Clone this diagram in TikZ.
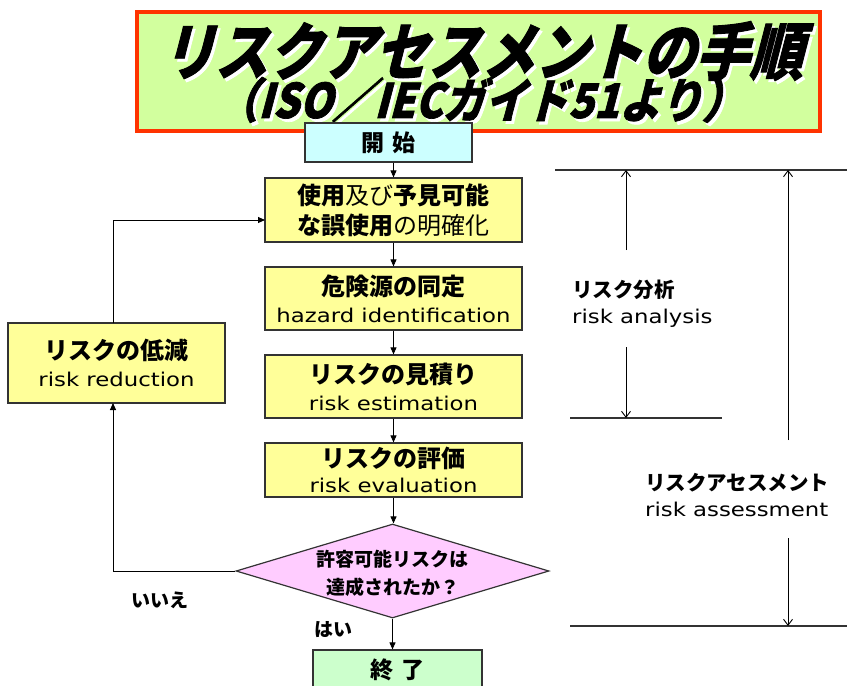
\documentclass[tikz,border=0pt]{standalone}
\usepackage{fontspec}
\usepackage{graphicx}
\setmainfont{Liberation Sans}
\newfontfamily\enf{DejaVu Sans}
\newfontfamily\jp{Noto Sans CJK JP}
\newfontfamily\jpt[FakeSlant=0.3,FakeBold=1.5]{Noto Sans CJK JP}
\usetikzlibrary{shapes.geometric,arrows.meta}
\definecolor{boxyellow}{HTML}{FFFF99}
\definecolor{boxcyan}{HTML}{CCFFFF}
\definecolor{boxpink}{HTML}{FFCCFF}
\definecolor{boxgreen}{HTML}{CCFFCC}
\definecolor{titlegreen}{HTML}{D2FF9E}
\definecolor{titlered}{HTML}{FF3300}
\definecolor{edge}{HTML}{333333}
\tikzset{
  box/.style={draw=edge,line width=1.2pt,rectangle,align=center,inner sep=0pt},
  yel/.style={box,fill=boxyellow,minimum width=257pt},
  flow/.style={draw=black,line width=0.9pt,-{Triangle[length=7pt,width=6pt]}},
  dim/.style={draw=black,line width=0.9pt,-{Straight Barb[length=6pt,width=9pt]}},
  rule/.style={draw=black!80,line width=1.4pt},
  jb/.style={font=\jp\bfseries\fontsize{24}{30}\selectfont},
  lab/.style={font=\jp\bfseries\fontsize{20.5}{26}\selectfont},
}
\newcommand{\en}[1]{\scalebox{1.2}[1]{\enf\mdseries\fontsize{19}{24}\selectfont #1}}
\newcommand{\shad}[1]{\makebox[0pt][l]{\hspace{2.5pt}\raisebox{-2.5pt}{\color{white}#1}}#1}
\newcommand{\ttl}[1]{\jpt\bfseries #1}
\begin{document}
\begin{tikzpicture}[x=1pt,y=-1pt]
\useasboundingbox (0,0) rectangle (847,686);
% title
\node[draw=titlered,fill=titlegreen,line width=4pt,minimum width=683pt,minimum height=119pt,inner sep=0pt] (title) at (478.5,71.5) {};
\node[black,inner sep=0pt] (t1) at (482,52.5) {\scalebox{1.03}[1.2]{\fontsize{52}{52}\selectfont\ttl{\shad{リスクアセスメントの手順}}}};
\node[black,inner sep=0pt] (t2) at (480,101.5) {\scalebox{1.1}[1.25]{\fontsize{38}{38}\selectfont\ttl{\shad{（ISO／IECガイド51より）}}}};
% flow boxes
\node[box,fill=boxcyan,minimum width=167pt,minimum height=39pt,jb,font=\jp\bfseries\fontsize{23}{28}\selectfont] (start) at (388.5,142.5) {開\,\,始};
\node[yel,minimum height=64pt,jb] (b1) at (393.5,210) {使用{\mdseries 及び}予見可能\\な誤使用{\mdseries の明確化}};
\node[yel,minimum height=63pt,jb] (b2) at (393.5,298.5) {危険源の同定\\[-3pt]\en{hazard identification}};
\node[yel,minimum height=63pt,jb] (b3) at (393.5,386.5) {リスクの見積り\\[-3pt]\en{risk estimation}};
\node[yel,minimum height=54pt,jb] (b4) at (393.5,470) {リスクの評価\\[-5pt]\en{risk evaluation}};
\node[draw=edge,line width=1.2pt,fill=boxpink,shape=diamond,minimum width=313pt,minimum height=94pt,inner sep=0pt] (dia) at (392.5,571) {};
\node[align=center,font=\jp\bfseries\fontsize{19}{28}\selectfont] (diatext) at (392.5,573) {許容可能リスクは\\達成されたか？};
\node[box,fill=boxgreen,minimum width=169pt,minimum height=40pt,font=\jp\bfseries\fontsize{23}{28}\selectfont] (end) at (397.5,670) {終\,\,了};
\node[box,fill=boxyellow,minimum width=217pt,minimum height=80pt,jb] (red) at (116.5,363) {リスクの低減\\[-3pt]\en{risk reduction}};
% connectors
\draw[flow] (b1.north |- start.south) -- (b1.north);
\draw[flow] (b1) -- (b2);
\draw[flow] (b2) -- (b3);
\draw[flow] (b3) -- (b4);
\draw[flow] (b4.south) -- (b4.south |- dia.north);
\draw[flow] (dia.south) -- (dia.south |- end.north);
\coordinate (redb) at (113,403);
\coordinate (redt) at (113,323);
\coordinate (b1in) at (265,220);
\draw[flow] (dia.west) -| (redb);
\draw[flow] (redt) |- (b1in);
\node[font=\jp\bfseries\fontsize{19}{24}\selectfont] (no) at (160,600) {いいえ};
\node[font=\jp\bfseries\fontsize{19}{24}\selectfont] (yes) at (333,630) {はい};
% right side
\coordinate (h1a) at (555,170); \coordinate (h1b) at (847,170);
\coordinate (h2a) at (570,418); \coordinate (h2b) at (722,418);
\coordinate (h3a) at (570,626); \coordinate (h3b) at (847,626);
\draw[rule] (h1a) -- (h1b);
\draw[rule] (h2a) -- (h2b);
\draw[rule] (h3a) -- (h3b);
\node[lab,anchor=west,align=left,inner sep=0pt] (ra) at (572,304) {リスク分析\\[0pt]\en{risk analysis}};
\node[lab,anchor=west,align=left,inner sep=0pt] (rs) at (645,495) {リスクアセスメント\\[0pt]\en{risk assessment}};
\coordinate (a1) at (626,250); \coordinate (a2) at (626,347);
\coordinate (c1) at (788,440); \coordinate (c2) at (788,538);
\draw[dim] (a1) -- (a1 |- h1a);
\draw[dim] (a2) -- (a2 |- h2a);
\draw[dim] (c1) -- (c1 |- h1a);
\draw[dim] (c2) -- (c2 |- h3a);
\end{tikzpicture}
\end{document}
